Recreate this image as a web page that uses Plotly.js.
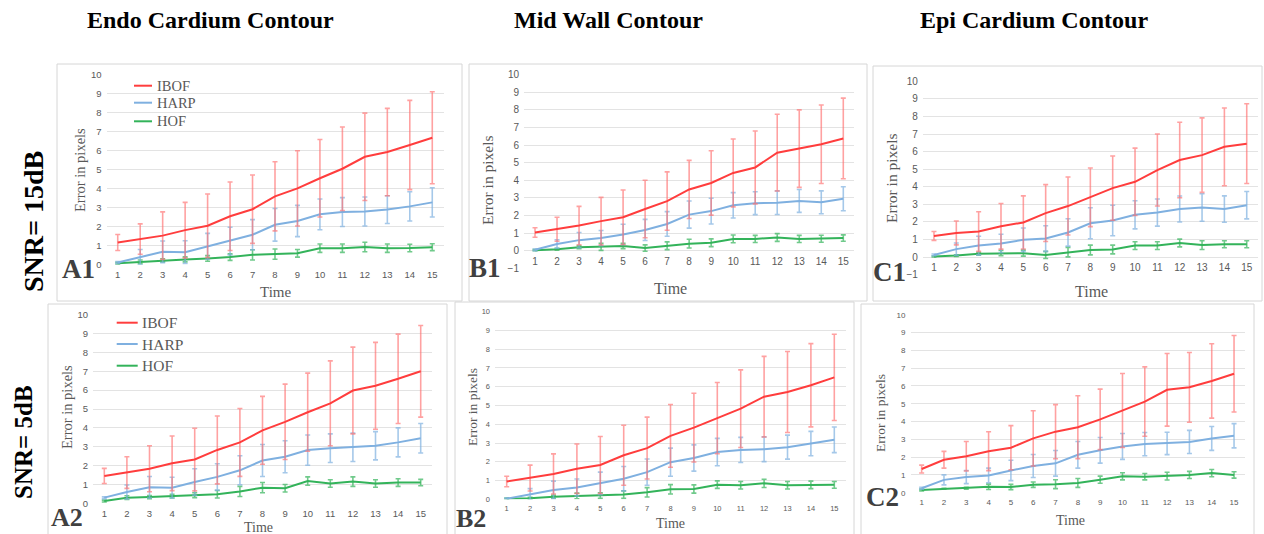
<!DOCTYPE html>
<html><head><meta charset="utf-8">
<script src="https://cdn.plot.ly/plotly-3.0.1.min.js"></script>
<style>html,body{margin:0;padding:0;background:#fff}#chart{width:1264px;height:534px}</style>
</head><body><div id="chart"></div>
<script>
// ---------- DATA ----------
const time = [1,2,3,4,5,6,7,8,9,10,11,12,13,14,15];
const seriesNames = ['IBOF','HARP','HOF'];
const columnTitles = ['Endo Cardium Contour','Mid Wall Contour','Epi Cardium Contour'];
const rowTitles = ['SNR= 15dB','SNR= 5dB'];
const panelLabels = ['A1','B1','C1','A2','B2','C2'];
const yAxisTitle = 'Error in pixels';
const xAxisTitle = 'Time';

// A1 : Endo, SNR 15dB
const a1_ibof     = [1.17,1.35,1.53,1.82,2.05,2.55,2.92,3.60,4.02,4.55,5.05,5.68,5.93,6.30,6.68];
const a1_ibof_err = [0.42,0.80,1.25,1.46,1.67,1.80,1.80,1.82,1.98,2.04,2.20,2.30,2.30,2.35,2.42];
const a1_harp     = [0.12,0.40,0.68,0.66,0.97,1.24,1.58,2.10,2.30,2.65,2.77,2.80,2.90,3.07,3.28];
const a1_harp_err = [0.05,0.40,0.57,0.60,0.68,0.73,0.79,0.86,0.82,0.81,0.76,0.76,0.73,0.77,0.77];
const a1_hof      = [0.07,0.15,0.23,0.28,0.33,0.40,0.52,0.56,0.60,0.87,0.87,0.93,0.87,0.88,0.92];
const a1_hof_err  = [0.05,0.10,0.08,0.13,0.15,0.17,0.27,0.27,0.20,0.22,0.22,0.25,0.22,0.20,0.18];

// B1 : Mid wall, SNR 15dB
const b1_ibof     = [1.03,1.22,1.43,1.68,1.90,2.37,2.82,3.48,3.85,4.42,4.73,5.57,5.80,6.05,6.38];
const b1_ibof_err = [0.27,0.68,1.09,1.35,1.55,1.63,1.66,1.65,1.83,1.93,2.07,2.18,2.20,2.23,2.29];
const b1_harp     = [0.05,0.38,0.60,0.72,0.92,1.18,1.52,2.05,2.25,2.58,2.70,2.73,2.83,2.75,2.95];
const b1_harp_err = [0.05,0.24,0.43,0.43,0.58,0.60,0.70,0.77,0.73,0.72,0.65,0.67,0.65,0.65,0.68];
const b1_hof      = [0.03,0.08,0.20,0.22,0.27,0.15,0.28,0.40,0.45,0.67,0.67,0.75,0.67,0.68,0.72];
const b1_hof_err  = [0.03,0.05,0.08,0.20,0.15,0.18,0.22,0.25,0.22,0.22,0.20,0.22,0.20,0.20,0.18];

// C1 : Epi, SNR 15dB
const c1_ibof     = [1.20,1.37,1.45,1.75,1.97,2.50,2.90,3.40,3.92,4.28,4.95,5.52,5.80,6.27,6.45];
const c1_ibof_err = [0.25,0.68,1.13,1.30,1.51,1.62,1.65,1.67,1.83,1.92,2.05,2.15,2.12,2.21,2.27];
const c1_harp     = [0.12,0.45,0.65,0.77,0.98,1.05,1.40,1.92,2.08,2.40,2.53,2.73,2.82,2.73,2.95];
const c1_harp_err = [0.05,0.35,0.53,0.53,0.67,0.73,0.78,0.88,0.87,0.80,0.77,0.74,0.78,0.75,0.78];
const c1_hof      = [0.03,0.08,0.18,0.22,0.22,0.12,0.28,0.40,0.43,0.65,0.65,0.80,0.68,0.73,0.73];
const c1_hof_err  = [0.03,0.05,0.07,0.15,0.17,0.20,0.27,0.28,0.25,0.22,0.22,0.22,0.25,0.20,0.20];

// A2 : Endo, SNR 5dB
const a2_ibof     = [1.45,1.63,1.83,2.12,2.32,2.83,3.23,3.87,4.32,4.83,5.30,5.98,6.23,6.60,7.00];
const a2_ibof_err = [0.40,0.84,1.22,1.45,1.66,1.80,1.80,1.80,2.00,2.07,2.25,2.30,2.30,2.37,2.43];
const a2_harp     = [0.30,0.60,0.85,0.83,1.13,1.40,1.75,2.27,2.47,2.82,2.92,2.97,3.05,3.23,3.45];
const a2_harp_err = [0.05,0.37,0.57,0.55,0.70,0.70,0.77,0.85,0.85,0.80,0.76,0.75,0.75,0.77,0.78];
const a2_hof      = [0.12,0.30,0.33,0.38,0.43,0.48,0.63,0.83,0.80,1.18,1.05,1.15,1.05,1.10,1.10];
const a2_hof_err  = [0.05,0.10,0.08,0.10,0.13,0.20,0.27,0.27,0.20,0.22,0.20,0.25,0.20,0.20,0.17];

// B2 : Mid wall, SNR 5dB
const b2_ibof     = [0.95,1.13,1.35,1.63,1.83,2.35,2.73,3.38,3.82,4.33,4.83,5.47,5.72,6.08,6.50];
const b2_ibof_err = [0.28,0.69,1.07,1.32,1.52,1.60,1.65,1.67,1.83,1.90,2.07,2.15,2.16,2.22,2.30];
const b2_harp     = [0.03,0.28,0.50,0.63,0.85,1.10,1.45,1.98,2.20,2.52,2.63,2.67,2.78,2.97,3.17];
const b2_harp_err = [0.03,0.29,0.47,0.45,0.60,0.65,0.70,0.75,0.70,0.73,0.67,0.66,0.64,0.65,0.68];
const b2_hof      = [0.03,0.05,0.13,0.18,0.20,0.25,0.37,0.53,0.55,0.78,0.75,0.85,0.75,0.77,0.77];
const b2_hof_err  = [0.03,0.05,0.08,0.15,0.15,0.20,0.25,0.25,0.22,0.20,0.20,0.22,0.20,0.20,0.18];

// C2 : Epi, SNR 5dB
const c2_ibof     = [1.33,1.85,2.05,2.33,2.53,3.05,3.43,3.68,4.12,4.62,5.12,5.78,5.92,6.28,6.68];
const c2_ibof_err = [0.22,0.47,0.83,1.09,1.24,1.55,1.52,1.77,1.70,2.08,1.95,2.04,1.96,2.09,2.15];
const c2_harp     = [0.25,0.72,0.88,0.97,1.25,1.50,1.65,2.13,2.38,2.60,2.73,2.77,2.85,3.05,3.20];
const c2_harp_err = [0.05,0.28,0.37,0.41,0.57,0.65,0.72,0.75,0.72,0.73,0.65,0.63,0.65,0.67,0.68];
const c2_hof      = [0.15,0.22,0.25,0.33,0.32,0.45,0.48,0.55,0.73,0.92,0.90,0.93,1.00,1.10,1.00];
const c2_hof_err  = [0.05,0.03,0.05,0.15,0.15,0.15,0.25,0.25,0.20,0.20,0.18,0.22,0.20,0.20,0.18];

// ---------- LAYOUT / STYLE ----------
const W = 1264, H = 534;
const px = x => x / W;
const py = y => 1 - y / H;

const lineColors = ['#ff3d3d', '#7fb0e0', '#33b35a'];
const errColors  = ['rgba(255,110,110,0.65)', 'rgba(127,176,224,0.7)', 'rgba(51,179,90,0.7)'];
const SANS = 'Liberation Sans, Arial, sans-serif';
const SERIF = 'Liberation Serif, Times New Roman, serif';

const panels = [
  {data:[[a1_ibof,a1_ibof_err],[a1_harp,a1_harp_err],[a1_hof,a1_hof_err]],
   xd:[106.5,443.5], yTop:74.7, yBot:264.7, yr:[0,10], zeroY:264.7, tick:9.5,
   frame:[57,64,462,301], label:[78,269,27], yt:[80,170,14.5], xt:[275,292,15]},
  {data:[[b1_ibof,b1_ibof_err],[b1_harp,b1_harp_err],[b1_hof,b1_hof_err]],
   xd:[524,854.3], yTop:74.7, yBot:268.3, yr:[-1,10], zeroY:251, tick:10,
   frame:[469,64,867,301], label:[485,268,27], yt:[488,180,15.5], xt:[670,288,16]},
  {data:[[c1_ibof,c1_ibof_err],[c1_harp,c1_harp_err],[c1_hof,c1_hof_err]],
   xd:[922.8,1257.9], yTop:81.3, yBot:274.6, yr:[-1,10], zeroY:257, tick:10,
   frame:[873,66,1262,301], label:[889,272,27], yt:[892,178,15.5], xt:[1091,291,16]},
  {data:[[a2_ibof,a2_ibof_err],[a2_harp,a2_harp_err],[a2_hof,a2_hof_err]],
   xd:[93,432], yTop:314.7, yBot:503.3, yr:[0,10], zeroY:503.3, tick:9.5,
   frame:[48,304,447,540], label:[67,517,26], yt:[67,407,14.5], xt:[258,527,14]},
  {data:[[b2_ibof,b2_ibof_err],[b2_harp,b2_harp_err],[b2_hof,b2_hof_err]],
   xd:[495,846], yTop:311.7, yBot:499.3, yr:[0,10], zeroY:499.3, tick:7.5,
   frame:[455,302,854,540], label:[471,518,26], yt:[472,407,13.5], xt:[670,523,14]},
  {data:[[c2_ibof,c2_ibof_err],[c2_harp,c2_harp_err],[c2_hof,c2_hof_err]],
   xd:[910.5,1245.2], yTop:314.7, yBot:492.7, yr:[0,10], zeroY:492.7, tick:8,
   frame:[861,304,1254,540], label:[883,497,27], yt:[880,413,13.5], xt:[1070,520,14]}
];

const traces = [];
const layout = {
  width: W, height: H,
  margin: {l:0, r:0, t:0, b:0},
  paper_bgcolor: '#ffffff', plot_bgcolor: 'rgba(0,0,0,0)',
  showlegend: false,
  shapes: [], annotations: []
};

panels.forEach((p, i) => {
  const n = i + 1;
  const xa = 'x' + (n === 1 ? '' : n), ya = 'y' + (n === 1 ? '' : n);
  const xk = 'xaxis' + (n === 1 ? '' : n), yk = 'yaxis' + (n === 1 ? '' : n);
  [2,1,0].forEach(s => {
    traces.push({
      type: 'scatter', mode: 'lines', name: seriesNames[s],
      x: time, y: p.data[s][0], xaxis: xa, yaxis: ya,
      line: {color: lineColors[s], width: 2},
      error_y: {type: 'data', array: p.data[s][1], visible: true,
                color: errColors[s], thickness: 1.6, width: 2.5},
      hoverinfo: 'skip'
    });
  });
  layout[xk] = {
    domain: [px(p.xd[0]), px(p.xd[1])], range: [0.5, 15.5],
    tickvals: time, ticktext: time.map(String),
    showgrid: false, zeroline: false, showline: false, ticks: '',
    anchor: 'free', position: py(p.zeroY), ticklabelstandoff: 3,
    tickfont: {family: SANS, size: p.tick, color: '#595959'},
    fixedrange: true
  };
  layout[yk] = {
    domain: [py(p.yBot), py(p.yTop)], range: p.yr, dtick: 1, tick0: 0,
    showgrid: true, gridcolor: '#e3e3e3', gridwidth: 1,
    zeroline: false, showline: false, ticks: '',
    anchor: xa, ticklabelstandoff: 4,
    tickfont: {family: SANS, size: p.tick, color: '#595959'},
    fixedrange: true
  };
  layout.shapes.push({type:'rect', xref:'paper', yref:'paper',
    x0: px(p.frame[0]), x1: px(p.frame[2]), y0: py(p.frame[3]), y1: py(p.frame[1]),
    line: {color:'#d6d6d6', width:1}, fillcolor:'rgba(0,0,0,0)', layer:'below'});
  layout.annotations.push({xref:'paper', yref:'paper', x: px(p.yt[0]), y: py(p.yt[1]),
    text: yAxisTitle, textangle: -90, showarrow:false, xanchor:'center', yanchor:'middle',
    font:{family: SERIF, size: p.yt[2], color:'#595959'}});
  layout.annotations.push({xref:'paper', yref:'paper', x: px(p.xt[0]), y: py(p.xt[1]),
    text: xAxisTitle, showarrow:false, xanchor:'center', yanchor:'middle',
    font:{family: SERIF, size: p.xt[2], color:'#595959'}});
  layout.annotations.push({xref:'paper', yref:'paper', x: px(p.label[0]), y: py(p.label[1]),
    text: '<b>' + panelLabels[i] + '</b>', showarrow:false, xanchor:'center', yanchor:'middle',
    font:{family: SERIF, size: p.label[2], color:'#404040'}});
});

// column titles
[[210.5,20],[608.5,20],[1034,20]].forEach((pos, i) => {
  layout.annotations.push({xref:'paper', yref:'paper', x: px(pos[0]), y: py(pos[1]),
    text: '<b>' + columnTitles[i] + '</b>', showarrow:false, xanchor:'center', yanchor:'middle',
    font:{family: SERIF, size: 24, color:'#000000'}});
});
// row titles
[[33,222,28],[23,442,25]].forEach((pos, i) => {
  layout.annotations.push({xref:'paper', yref:'paper', x: px(pos[0]), y: py(pos[1]),
    text: '<b>' + rowTitles[i] + '</b>', textangle:-90, showarrow:false,
    xanchor:'center', yanchor:'middle',
    font:{family: SERIF, size: pos[2], color:'#000000'}});
});

// legends (A1 and A2)
const legends = [
  {ys:[85.7,102.7,121.3], lx:[134,152], tx:155, size:14.5},
  {ys:[322.7,344,365.7], lx:[116.7,137.7], tx:140, size:15.5}
];
legends.forEach(lg => {
  seriesNames.forEach((nm, s) => {
    layout.shapes.push({type:'line', xref:'paper', yref:'paper',
      x0: px(lg.lx[0]), x1: px(lg.lx[1]), y0: py(lg.ys[s]), y1: py(lg.ys[s]),
      line:{color: lineColors[s], width: 2}});
    layout.annotations.push({xref:'paper', yref:'paper', x: px(lg.tx), y: py(lg.ys[s]),
      text: nm, showarrow:false, xanchor:'left', yanchor:'middle',
      font:{family: SERIF, size: lg.size, color:'#595959'}});
  });
});

Plotly.newPlot('chart', traces, layout, {staticPlot: true, displayModeBar: false});
</script>
</body></html>
